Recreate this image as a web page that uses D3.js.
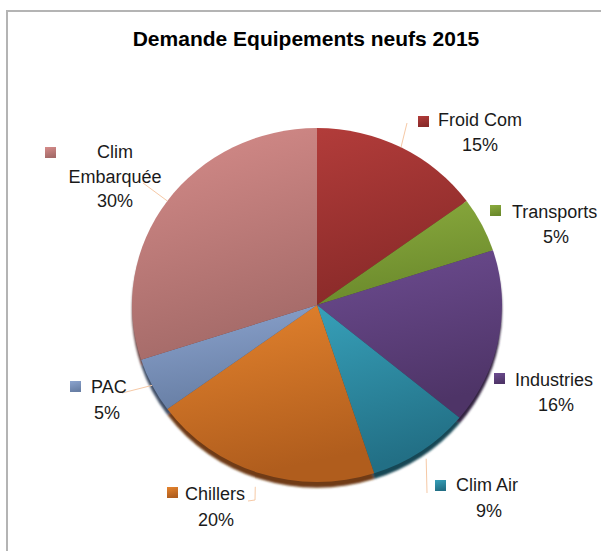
<!DOCTYPE html>
<html>
<head>
<meta charset="utf-8">
<script src="https://d3js.org/d3.v7.min.js"></script>
<style>
  body { margin: 0; background: #fff; }
  svg { display: block; font-family: "Liberation Sans", Arial, sans-serif; }
</style>
</head>
<body>
<div id="chart"></div>
<script>
// Data
const categories = ["Froid Com", "Transports", "Industries", "Clim Air", "Chillers", "PAC", "Clim\nEmbarquée"];
const values = [15, 5, 16, 9, 20, 5, 30];
const title = "Demande Equipements neufs 2015";

// Slice colours: light (top) and dark (bottom) of each gradient
const lightColors = ["#b23c3a", "#8bab3e", "#6d4c91", "#37a0b9", "#e5842e", "#8ca4cf", "#d68c8a"];
const darkColors  = ["#892a29", "#6b8a2c", "#4e3467", "#226f85", "#b05d1d", "#687fa5", "#a56b69"];

// Label layout: legend key, text lines, leader end
const labelLayout = [
  { key: [418, 116], lines: [[438, 126, "start"], [480, 151, "middle"]], leader: { r: 1.0, pts: [[407, 123]] } },
  { key: [490, 205], lines: [[512, 218, "start"], [556, 243, "middle"]], leader: null },
  { key: [494, 373], lines: [[515, 386, "start"], [556, 411, "middle"]], leader: null },
  { key: [435, 480], lines: [[456, 491, "start"], [489, 517, "middle"]], leader: { r: 1.05, pts: [[427, 493]] } },
  { key: [167, 487], lines: [[185, 500, "start"], [216, 526, "middle"]], leader: { r: 1.08, pts: [[255, 500], [248, 501]] } },
  { key: [70, 381], lines: [[91, 393, "start"], [107, 419, "middle"]], leader: { r: 1.0, pts: [[122, 393]] } },
  { key: [45, 147], lines: [[115, 158, "middle"], [115, 183, "middle"], [115, 207, "middle"]], leader: { r: 1.0, pts: [[143, 183]] } }
];

const width = 601,
      height = 551,
      cx = 317,
      cy = 305,
      rx = 185,
      ry = 177;

const total = d3.sum(values);
const data = categories.map((c, i) => ({ name: c, value: values[i], i: i }));

const svg = d3.select("#chart").append("svg")
  .attr("width", width)
  .attr("height", height);

// Chart frame (only top and left edges are visible)
svg.append("line").attr("x1", 6).attr("y1", 11).attr("x2", width).attr("y2", 11)
  .attr("stroke", "#b4b4b4").attr("stroke-width", 2);
svg.append("line").attr("x1", 7).attr("y1", 10).attr("x2", 7).attr("y2", height)
  .attr("stroke", "#b4b4b4").attr("stroke-width", 2);

// Title
svg.append("text")
  .attr("x", 306)
  .attr("y", 46)
  .attr("text-anchor", "middle")
  .attr("font-size", 21)
  .attr("font-weight", "bold")
  .attr("fill", "#000")
  .text(title);

const defs = svg.append("defs");
defs.append("filter").attr("id", "soft")
  .append("feGaussianBlur").attr("stdDeviation", 1.2);

data.forEach((d, i) => {
  const g = defs.append("linearGradient")
    .attr("id", "grad" + i)
    .attr("x1", 0).attr("y1", 0).attr("x2", 0.25).attr("y2", 1);
  g.append("stop").attr("offset", "0%").attr("stop-color", lightColors[i]);
  g.append("stop").attr("offset", "100%").attr("stop-color", darkColors[i]);
});

const pie = d3.pie()
  .sort(null)
  .value(d => d.value);

const arcs = pie(data);

const arc = d3.arc()
  .innerRadius(0)
  .outerRadius(rx);

// Pie drawn as a circle squeezed slightly vertically
const pieG = svg.append("g")
  .attr("transform", `translate(${cx},${cy}) scale(1,${ry / rx})`);

// Dark rim / shadow under the pie
pieG.append("g")
  .attr("transform", "translate(0,6)")
  .attr("filter", "url(#soft)")
  .selectAll("path")
  .data(arcs)
  .enter()
  .append("path")
  .attr("d", arc)
  .attr("fill", d => d3.color(darkColors[d.index]).darker(1.3));

pieG.append("g")
  .selectAll("path")
  .data(arcs)
  .enter()
  .append("path")
  .attr("d", arc)
  .attr("fill", d => `url(#grad${d.index})`);

// Leader lines from the middle of each slice edge
function edgePoint(a, f) {
  const m = (a.startAngle + a.endAngle) / 2;
  return [cx + rx * f * Math.sin(m), cy - ry * f * Math.cos(m)];
}

arcs.forEach(a => {
  const lay = labelLayout[a.index];
  if (!lay.leader) return;
  const pts = [edgePoint(a, lay.leader.r)].concat(lay.leader.pts);
  svg.append("path")
    .attr("d", d3.line()(pts))
    .attr("fill", "none")
    .attr("stroke", "#f6c9a6")
    .attr("stroke-width", 1);
});

// Data labels with legend keys
const labels = svg.append("g")
  .attr("font-size", 18)
  .attr("fill", "#1a1a1a");

arcs.forEach(a => {
  const lay = labelLayout[a.index];
  const pct = Math.round(a.data.value / total * 100) + "%";
  const lines = a.data.name.split("\n").concat([pct]);

  labels.append("rect")
    .attr("x", lay.key[0])
    .attr("y", lay.key[1])
    .attr("width", 11)
    .attr("height", 11)
    .attr("fill", `url(#grad${a.index})`);

  lines.forEach((t, j) => {
    const p = lay.lines[j];
    labels.append("text")
      .attr("x", p[0])
      .attr("y", p[1])
      .attr("text-anchor", p[2])
      .text(t);
  });
});
</script>
</body>
</html>
